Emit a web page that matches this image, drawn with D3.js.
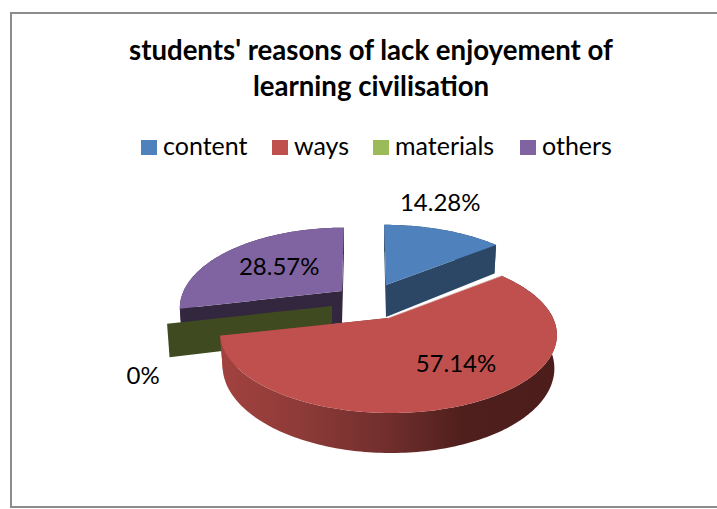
<!DOCTYPE html>
<html><head><meta charset="utf-8">
<script src="https://cdn.jsdelivr.net/npm/d3@7/dist/d3.min.js"></script>
<style>html,body{margin:0;padding:0;background:#fff}svg{display:block}text{font-family:Lato,"Open Sans",sans-serif;fill:#000}</style>
</head><body><div id="chart"></div>
<script>
const titleLines = ["students' reasons of lack enjoyement of", "learning civilisation"];
const categories = ["content", "ways", "materials", "others"];
const values = [14.28, 57.14, 0, 28.57];
const valueLabels = ["14.28%", "57.14%", "0%", "28.57%"];
const topColors = ["#4f81bd", "#c0504d", "#9bbb59", "#8064a2"];
const wallColors = ["#2c4766", "url(#redWall)", "#3f4a20", "#33263f"];

const W = 717, H = 509;
const RX = 165, RY = 76, PERSP = 0.2, DEPTH = 32, VX = 365, BOTTOM_X = 0.985;
// exploded slice apexes and per-slice foreshortening
const apex = [[386,285],[388,318],[332,306],[342,291]];
const scaleX = [0.97, 1, 0.975, 0.96];
const scaleY = [0.95, 1, 1, 1];
const labelFrac = [1, 0.6, 1.2, 0.6];
const labelNudge = [[-3,-19],[14,4],[9,57],[2.5,9]];
const legendSwatchX = [141, 272, 373, 520];

const svg = d3.select("#chart").append("svg").attr("width", W).attr("height", H);
svg.append("path").attr("d",`M${W+2},13 H11 V507 H${W+2}`).attr("fill","none").attr("stroke","#8c8c8c").attr("stroke-width",2);

const defs = svg.append("defs");
const grad = defs.append("linearGradient").attr("id","redWall").attr("gradientUnits","userSpaceOnUse")
  .attr("x1",222).attr("x2",556).attr("y1",0).attr("y2",0);
[[0,"#a2423f"],[0.25,"#8c3a38"],[0.5,"#702e2c"],[0.72,"#4f1f1d"],[1,"#4c1d1b"]]
  .forEach(([o,c])=>grad.append("stop").attr("offset",o).attr("stop-color",c));

const color = d3.scaleOrdinal().domain(categories).range(topColors);
const wall = d3.scaleOrdinal().domain(categories).range(wallColors);

function project(i, theta, f, z) {
  const a = apex[i];
  const s = 1 / (1 + PERSP * Math.cos(theta));
  const r = f === undefined ? 1 : f;
  const bx = z ? BOTTOM_X : 1;
  return [
    a[0] + (RX * scaleX[i] * bx * r * Math.sin(theta) * s + (a[0] - VX) * (s - 1) * 0.5 * r),
    a[1] - RY * scaleY[i] * r * Math.cos(theta) * s + (z ? DEPTH * s : 0)
  ];
}
const line = d3.line();
function rim(i, t0, t1, z) {
  const n = Math.max(1, Math.ceil(Math.abs(t1 - t0) / 0.02));
  return d3.range(n + 1).map(k => project(i, t0 + (t1 - t0) * k / n, 1, z));
}

const pie = d3.pie().sort(null).value(d => d.value).startAngle(0).endAngle(2 * Math.PI);
const arcs = pie(categories.map((name, i) => ({name, value: values[i], i})));

const g = svg.append("g");
// painter's order: others, materials, content, ways
[3, 2, 0, 1].forEach(i => {
  const d = arcs[i], a = apex[i], name = d.data.name;
  const top = rim(i, d.startAngle, d.endAngle, false);
  const bottom = rim(i, d.startAngle, d.endAngle, true);
  const a0 = [a[0], a[1]], a1 = [a[0], a[1] + DEPTH];
  const sl = g.append("g");
  if (d.value > 0) {
    sl.append("path").attr("d", line(top.concat(bottom.slice().reverse())) + "Z").attr("fill", wall(name));
    sl.append("path").attr("d", line([a0, top[0], bottom[0], a1]) + "Z").attr("fill", wall(name));
  }
  sl.append("path").attr("d", line([a0, top[top.length - 1], bottom[bottom.length - 1], a1]) + "Z").attr("fill", wall(name));
  if (d.value > 0) {
    sl.append("path").attr("d", line([a0].concat(top)) + "Z").attr("fill", color(name));
  }
});
// thin light edge where the big slice overlaps its neighbour
g.append("path").attr("d", line([apex[1], project(1, arcs[1].startAngle)]))
  .attr("stroke", "#fff").attr("stroke-opacity", 0.6).attr("stroke-width", 1).attr("fill", "none");

// value labels
svg.append("g").selectAll("text").data(arcs).join("text")
  .attr("text-anchor", "middle").attr("font-size", 24)
  .attr("x", (d, i) => project(i, (d.startAngle + d.endAngle) / 2, labelFrac[i])[0] + labelNudge[i][0])
  .attr("y", (d, i) => project(i, (d.startAngle + d.endAngle) / 2, labelFrac[i])[1] + labelNudge[i][1])
  .text((d, i) => valueLabels[i]);

// title
svg.append("g").selectAll("text").data(titleLines).join("text")
  .attr("x", 371).attr("y", (d, i) => 60 + i * 36)
  .attr("text-anchor", "middle").attr("font-size", 27.6).attr("font-weight", 700)
  .text(d => d);

// legend
const lg = svg.append("g").selectAll("g").data(categories).join("g")
  .attr("transform", (d, i) => `translate(${legendSwatchX[i]},140)`);
lg.append("rect").attr("width", 16).attr("height", 15).attr("fill", d => color(d));
lg.append("text").attr("x", 22).attr("y", 15).attr("font-size", 25).text(d => d);
</script></body></html>
